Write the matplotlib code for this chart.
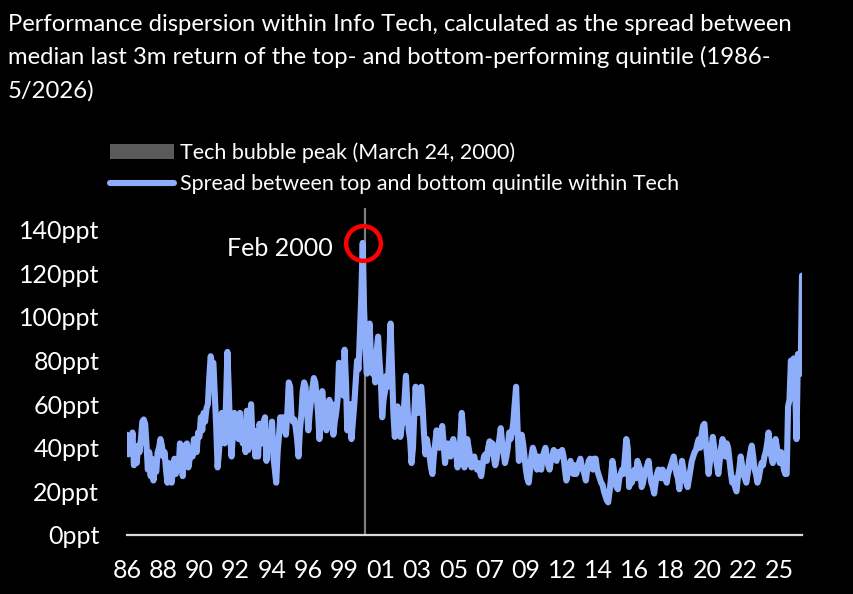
import matplotlib
matplotlib.use("Agg")
import matplotlib.pyplot as plt
import pandas as pd
import numpy as np
from matplotlib.patches import Patch
from matplotlib.lines import Line2D

plt.rcParams['font.family'] = ['Lato', 'DejaVu Sans']

# ---------------- data ----------------
title_lines = [
    "Performance dispersion within Info Tech, calculated as the spread between",
    "median last 3m return of the top- and bottom-performing quintile (1986-",
    "5/2026)",
]
series_label = "Spread between top and bottom quintile within Tech"
peak_label = "Tech bubble peak (March 24, 2000)"
peak_date = "2000-03-24"
annot_label = "Feb 2000"
start_month = "1986-01-01"
tick_step_months = 26
y_ticks = [0, 20, 40, 60, 80, 100, 120, 140]
y_tick_labels = [f"{v}ppt" for v in y_ticks]

# monthly spread (ppt), Jan 1986 - May 2026
spread_ppt = [
    46, 37, 45, 40, 47, 32, 36, 33, 41, 38, 44, 52,   # 1986
    53, 51, 42, 30, 38, 27, 35, 25, 33, 29, 38, 40,   # 1987
    44, 41, 36, 38, 30, 24, 33, 27, 24, 30, 35, 28,   # 1988
    33, 30, 42, 38, 27, 41, 37, 42, 31, 35, 40, 36,   # 1989
    44, 40, 38, 47, 45, 54, 48, 56, 52, 58, 60, 72,   # 1990
    82, 78, 79, 64, 50, 31, 38, 49, 56, 48, 42, 60,   # 1991
    84, 66, 45, 36, 47, 56, 50, 52, 44, 56, 48, 42,   # 1992
    50, 38, 57, 39, 50, 60, 45, 48, 36, 41, 36, 51,   # 1993
    47, 42, 52, 54, 34, 42, 47, 39, 52, 36, 30, 24,   # 1994
    38, 46, 54, 48, 54, 52, 46, 56, 70, 68, 54, 52,   # 1995
    53, 49, 44, 36, 48, 55, 66, 70, 68, 58, 48, 56,   # 1996
    62, 68, 72, 70, 64, 56, 44, 54, 66, 58, 52, 48,   # 1997
    50, 62, 58, 60, 46, 52, 56, 62, 79, 66, 68, 64,   # 1998
    85, 70, 48, 56, 60, 44, 52, 60, 70, 80, 76, 92,   # 1999
    110, 134, 104, 86, 74, 92, 97, 80, 74, 78, 70, 84,  # 2000
    91, 80, 72, 54, 62, 66, 73, 68, 82, 97, 76, 56,   # 2001
    45, 52, 59, 56, 45, 50, 52, 62, 73, 60, 48, 44,   # 2002
    33, 40, 55, 68, 60, 56, 66, 68, 58, 46, 37, 44,   # 2003
    40, 36, 31, 28, 36, 42, 48, 44, 40, 46, 50, 42,   # 2004
    33, 38, 42, 40, 36, 42, 44, 40, 38, 31, 36, 44,   # 2005
    56, 48, 31, 38, 44, 40, 36, 31, 34, 36, 32, 30,   # 2006
    33, 29, 27, 32, 36, 37, 34, 40, 43, 38, 42, 36,   # 2007
    32, 35, 40, 44, 49, 42, 38, 33, 36, 40, 47, 44,   # 2008
    47, 52, 60, 68, 50, 34, 40, 46, 42, 36, 30, 26,   # 2009
    24, 30, 36, 40, 38, 32, 30, 36, 34, 30, 36, 38,   # 2010
    40, 36, 32, 30, 34, 36, 39, 36, 34, 38, 36, 38,   # 2011
    39, 36, 30, 25, 28, 32, 34, 30, 28, 32, 28, 30,   # 2012
    33, 35, 32, 30, 28, 25, 30, 34, 35, 32, 30, 35,   # 2013
    35, 30, 28, 26, 24, 23, 20, 18, 16, 15, 20, 26,   # 2014
    34, 30, 24, 22, 21, 26, 28, 30, 28, 36, 44, 40,   # 2015
    22, 26, 24, 28, 30, 26, 34, 32, 30, 22, 24, 28,   # 2016
    30, 32, 34, 28, 24, 22, 19, 24, 28, 30, 28, 26,   # 2017
    30, 28, 26, 24, 28, 30, 32, 34, 36, 32, 28, 26,   # 2018
    21, 28, 34, 30, 26, 24, 22, 26, 30, 34, 36, 38,   # 2019
    39, 42, 44, 40, 46, 50, 51, 42, 36, 28, 34, 40,   # 2020
    45, 40, 36, 32, 28, 34, 40, 44, 42, 36, 42, 40,   # 2021
    34, 28, 24, 26, 22, 20, 26, 30, 36, 32, 28, 26,   # 2022
    24, 28, 34, 38, 41, 36, 30, 28, 24, 26, 30, 33,   # 2023
    32, 36, 38, 42, 47, 40, 36, 33, 38, 44, 40, 36,   # 2024
    33, 38, 34, 30, 28, 28, 59, 62, 80, 75, 81, 70,   # 2025
    44, 83, 78, 74, 119,                              # 2026
]

# ---------------- style ----------------
bg = "black"
fg = "white"
line_color = "#8FAEFA"
peak_color = "#7F7F7F"
patch_color = "#5A5A5A"

dates = pd.date_range(start_month, periods=len(spread_ppt), freq="MS")
values = np.array(spread_ppt, dtype=float)

fig = plt.figure(figsize=(8.54, 5.94), dpi=100, facecolor=bg)
ax = fig.add_axes([127/854, 1 - 535/594, (802 - 127)/854, (535 - 208)/594])
ax.set_facecolor(bg)

ax.axvline(pd.Timestamp(peak_date), color=peak_color, lw=1.6, zorder=1)
ax.plot(dates, values, color=line_color, lw=4.4, solid_joinstyle="round",
        solid_capstyle="round", zorder=2)

imax = int(np.argmax(values))
ax.plot([dates[imax]], [values[imax]], marker="o", ms=25, mfc="none",
        mec="#FF0000", mew=3.2, zorder=3, clip_on=False)
ax.annotate(annot_label, xy=(dates[imax], values[imax]), xytext=(-30, -6),
            textcoords="offset pixels", ha="right", va="center",
            color=fg, fontsize=18)

ax.set_xlim(dates[0], dates[-1])
ax.set_ylim(0, 150)
ax.set_yticks(y_ticks)
ax.set_yticklabels(y_tick_labels)
tick_dates = dates[::tick_step_months]
ax.set_xticks(tick_dates)
ax.set_xticklabels([f"{d.year % 100:02d}" for d in tick_dates])
ax.tick_params(axis="both", length=0, colors=fg, labelsize=18)
ax.tick_params(axis="x", pad=17)
ax.tick_params(axis="y", pad=20)
for s in ["left", "right", "top"]:
    ax.spines[s].set_visible(False)
ax.spines["bottom"].set_color("#D9D9D9")
ax.spines["bottom"].set_linewidth(1.6)

for line, base_px in zip(title_lines, [31, 64.5, 98]):
    fig.text(8/854, 1 - base_px/594, line, ha="left", va="baseline",
             color=fg, fontsize=17.2)

handles = [Patch(facecolor=patch_color, edgecolor="none", label=peak_label),
           Line2D([0], [0], color=line_color, lw=4.4, solid_capstyle="round",
                  label=series_label)]
leg = fig.legend(handles=handles, loc="upper left",
                 bbox_to_anchor=(110/854, 1 - 142/594), frameon=False,
                 fontsize=15.5, handlelength=2.97, handleheight=0.7,
                 handletextpad=0.28, labelspacing=0.55, borderpad=0,
                 borderaxespad=0)
for t in leg.get_texts():
    t.set_color(fg)

fig.savefig("out.png", dpi=100, facecolor=bg)
